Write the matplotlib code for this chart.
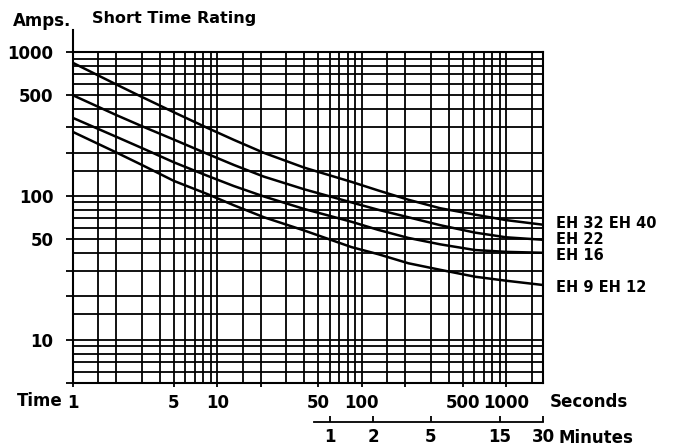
import matplotlib
matplotlib.use("Agg")
import matplotlib.pyplot as plt
from matplotlib.ticker import FixedLocator, FixedFormatter, NullLocator

plt.rcParams['font.family'] = ['DejaVu Sans']

# time in seconds, current in amps
t = [1, 2, 3, 5, 8.5, 13, 21, 40, 85, 130, 210, 350, 610, 1000, 1800]
eh32_40 = [840, 594, 487, 381, 297, 245, 199, 157, 125, 109, 94, 82, 74, 67.8, 63]
eh22 = [500, 364, 305, 246, 196, 164, 136, 111, 90, 80, 71, 62.5, 55.5, 51.5, 49.5]
eh16 = [348, 257, 215, 171, 138, 117, 99, 81, 66, 58, 51, 46, 42, 40.8, 40.2]
eh9_12 = [278, 200, 164, 127, 103, 86, 71, 57.4, 44, 39.3, 34, 30.6, 27.4, 25.7, 24]

curves = [eh32_40, eh22, eh16, eh9_12]
curve_labels = ["EH 32 EH 40", "EH 22", "EH 16", "EH 9 EH 12"]

y_ticks = [5, 10, 20, 30, 50, 100, 200, 300, 500, 1000]
y_ticklabels = ["", "10", "", "", "50", "100", "", "", "500", "1000"]
x_ticks = [1, 5, 10, 20, 50, 100, 200, 500, 1000]
x_ticklabels = ["1", "5", "10", "", "50", "100", "", "500", "1000"]
min_ticks = [1, 2, 5, 15, 30]

fig = plt.figure(figsize=(6.94, 4.47), dpi=100)
ax = fig.add_axes([73/694, 64/447, 470/694, 331/447])
ax.set_xscale('log')
ax.set_yscale('log')
ax.set_xlim(1, 1800)
ax.set_ylim(5, 1000)

# log paper grid
mult = [1, 1.5, 2, 3, 4, 5, 6, 7, 8, 9]
for dec in [1, 10, 100, 1000]:
    for m in mult:
        v = dec * m
        if 1 < v < 1800:
            ax.axvline(v, color='black', lw=1.3, zorder=1)
for dec in [1, 10, 100]:
    for m in mult:
        v = dec * m
        if 5 < v < 1000:
            ax.axhline(v, color='black', lw=1.3, zorder=1)

for c in curves:
    ax.plot(t, c, color='black', lw=1.8, zorder=2)

for s in ax.spines.values():
    s.set_color('black')
    s.set_linewidth(1.5)
ax.plot([0, 0], [1, 1 + 22/331], transform=ax.transAxes, color='black',
        lw=1.5, clip_on=False)

ax.yaxis.set_major_locator(FixedLocator(y_ticks))
ax.yaxis.set_major_formatter(FixedFormatter(y_ticklabels))
ax.yaxis.set_minor_locator(NullLocator())
ax.xaxis.set_major_locator(FixedLocator(x_ticks))
ax.xaxis.set_major_formatter(FixedFormatter(x_ticklabels))
ax.xaxis.set_minor_locator(NullLocator())
ax.tick_params(axis='y', direction='out', length=5, width=1.3, pad=9,
               labelsize=12)
ax.tick_params(axis='x', direction='out', length=3, width=1.3, pad=5,
               labelsize=12)
for lab in ax.get_xticklabels() + ax.get_yticklabels():
    lab.set_fontweight('bold')

# minutes scale
sec = ax.secondary_xaxis(-39/331, functions=(lambda s: s / 60, lambda m: m * 60))
sec.xaxis.set_major_locator(FixedLocator(min_ticks))
sec.xaxis.set_major_formatter(FixedFormatter([str(m) for m in min_ticks]))
sec.xaxis.set_minor_locator(NullLocator())
sec.spines['bottom'].set_bounds(47/60, 30)
sec.spines['bottom'].set_linewidth(1.3)
sec.tick_params(axis='x', direction='in', length=4, width=1.3, pad=4,
                labelsize=12)
for lab in sec.get_xticklabels():
    lab.set_fontweight('bold')

tk = dict(fontsize=12, fontweight='bold', va='center')
fig.text(13/694, 1 - 21/447, "Amps.", ha='left', **tk)
fig.text(92/694, 1 - 19/447, "Short Time Rating", ha='left', fontsize=11.5,
         fontweight='bold', va='center')
fig.text(17/694, 1 - 401/447, "Time", ha='left', **tk)
fig.text(550/694, 1 - 402/447, "Seconds", ha='left', **tk)
fig.text(558/694, 1 - 438/447, "Minutes", ha='left', **tk)

label_y = [224, 240, 256, 287]
for lbl, yy in zip(curve_labels, label_y):
    fig.text(556/694, 1 - yy/447, lbl, ha='left', fontsize=10.5,
             fontweight='bold', va='center')

fig.savefig("out.png", dpi=100)
